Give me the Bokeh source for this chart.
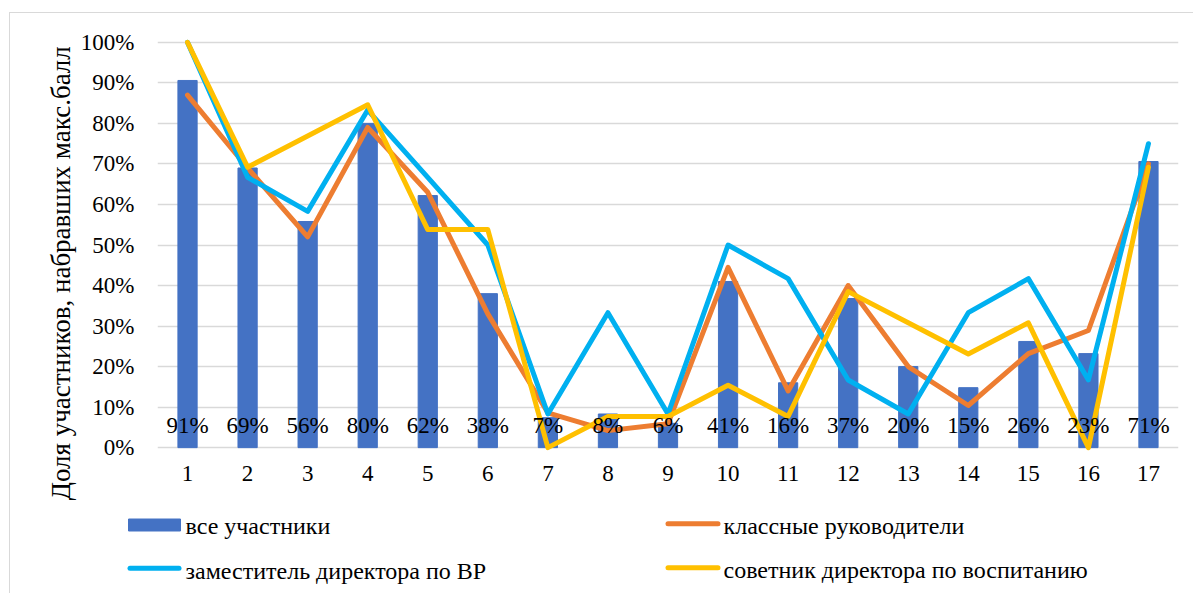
from bokeh.plotting import figure
from bokeh.layouts import column
from bokeh.models import (ColumnDataSource, FixedTicker, NumeralTickFormatter,
                          Range1d, Title)
from bokeh.core.properties import value
from bokeh.embed import file_html
from bokeh.resources import INLINE

# ---- data ----
questions = list(range(1, 18))
all_participants = [0.906, 0.69, 0.558, 0.80, 0.622, 0.38, 0.074, 0.083, 0.06,
                    0.41, 0.16, 0.368, 0.20, 0.148, 0.262, 0.232, 0.706]
class_teachers = [0.87, 0.69, 0.52, 0.79, 0.63, 0.33, 0.086, 0.042, 0.059,
                  0.445, 0.14, 0.40, 0.20, 0.104, 0.232, 0.289, 0.70]
deputy_director = [1.0, 0.667, 0.583, 0.833, 0.667, 0.50, 0.083, 0.333, 0.083,
                   0.50, 0.417, 0.167, 0.083, 0.333, 0.417, 0.167, 0.75]
advisor = [1.0, 0.692, 0.769, 0.846, 0.538, 0.538, 0.0, 0.077, 0.077,
           0.154, 0.077, 0.385, 0.308, 0.231, 0.308, 0.0, 0.692]
series_names = ["все участники", "классные руководители",
                "заместитель директора по ВР", "советник директора по воспитанию"]
y_ticks = [i / 10 for i in range(11)]
y_title = "Доля участников, набравших макс.балл"

FONT = "Liberation Serif"
C_BAR, C_OR, C_CY, C_YE = "#4472C4", "#ED7D31", "#00B0F0", "#FFC000"
LW = 5
W = 1183

src = ColumnDataSource(dict(
    x=questions, bars=all_participants, cls=class_teachers,
    dep=deputy_director, adv=advisor,
    lab=[f"{int(round(v * 100))}%" for v in all_participants],
    zero=[0] * len(questions),
))

p = figure(width=W, height=487, output_backend="svg", toolbar_location=None,
           x_range=Range1d(0.5, 17.5), y_range=Range1d(-0.012, 1.012),
           min_border_left=147, min_border_right=15, min_border_top=24,
           min_border_bottom=48)
p.frame_align = False
p.outline_line_color = None
p.background_fill_color = "white"
p.border_fill_color = "white"

p.vbar(x="x", top="bars", width=0.32, source=src, color=C_BAR)
p.line("x", "cls", source=src, line_color=C_OR, line_width=LW,
       line_join="round", line_cap="round")
p.line("x", "dep", source=src, line_color=C_CY, line_width=LW,
       line_join="round", line_cap="round")
p.line("x", "adv", source=src, line_color=C_YE, line_width=LW,
       line_join="round", line_cap="round")
p.text("x", "zero", text="lab", source=src, text_font=value(FONT),
       text_font_size="23px", text_color="black", text_align="center",
       text_baseline="alphabetic", y_offset=-22)

# axes
p.xaxis.ticker = FixedTicker(ticks=questions)
p.yaxis.ticker = FixedTicker(ticks=y_ticks)
p.yaxis.formatter = NumeralTickFormatter(format="0%")
for ax in (p.xaxis[0], p.yaxis[0]):
    ax.axis_line_color = None
    ax.major_tick_line_color = None
    ax.minor_tick_line_color = None
    ax.major_tick_out = 0
    ax.major_tick_in = 0
    ax.major_label_text_font = FONT
    ax.major_label_text_font_size = "23px"
    ax.major_label_text_color = "black"
p.xaxis.major_label_standoff = 13
p.yaxis.major_label_standoff = 23

# y-axis title (as a left-side title so it can be shifted along the axis)
p.add_layout(Title(text=y_title, align="left", offset=-48, standoff=4,
                   text_font=FONT, text_font_size="27px",
                   text_font_style="normal", text_color="black"), "left")

p.xgrid.grid_line_color = None
p.ygrid.ticker = FixedTicker(ticks=y_ticks)
p.ygrid.grid_line_color = "#d9d9d9"
p.ygrid.grid_line_width = 1.5

# ---- legend strip (separate figure below the chart, pixel coordinates) ----
LH = 93
pl = figure(width=W, height=LH, output_backend="svg", toolbar_location=None,
            x_range=Range1d(0, W), y_range=Range1d(LH, 0),
            x_axis_type=None, y_axis_type=None,
            min_border_left=0, min_border_right=0, min_border_top=0,
            min_border_bottom=0)
pl.frame_align = False
pl.outline_line_color = None
pl.xgrid.visible = False
pl.ygrid.visible = False

# swatches
pl.quad(left=[118], right=[170], top=[18.5], bottom=[30.5], color=C_BAR)
pl.segment(x0=[119.5], x1=[168.5], y0=[67.7], y1=[67.7], line_color=C_CY,
           line_width=LW, line_cap="round")
pl.segment(x0=[657.5], x1=[707.5], y0=[23.3], y1=[23.3], line_color=C_OR,
           line_width=LW, line_cap="round")
pl.segment(x0=[657.5], x1=[707.5], y0=[67.3], y1=[67.3], line_color=C_YE,
           line_width=LW, line_cap="round")
# labels
leg_src = ColumnDataSource(dict(
    x=[175, 175, 713, 713], y=[25, 70, 25, 69],
    t=[series_names[0], series_names[2], series_names[1], series_names[3]]))
pl.text("x", "y", text="t", source=leg_src, text_font=value(FONT),
        text_font_size="24px", text_color="black", text_align="left",
        text_baseline="alphabetic")

layout = column(p, pl, spacing=0,
                styles={"margin-left": "9px", "margin-top": "12px",
                        "border-left": "1px solid #d9d9d9",
                        "border-top": "1px solid #d9d9d9"})

open("out.html", "w").write(file_html(layout, INLINE))
